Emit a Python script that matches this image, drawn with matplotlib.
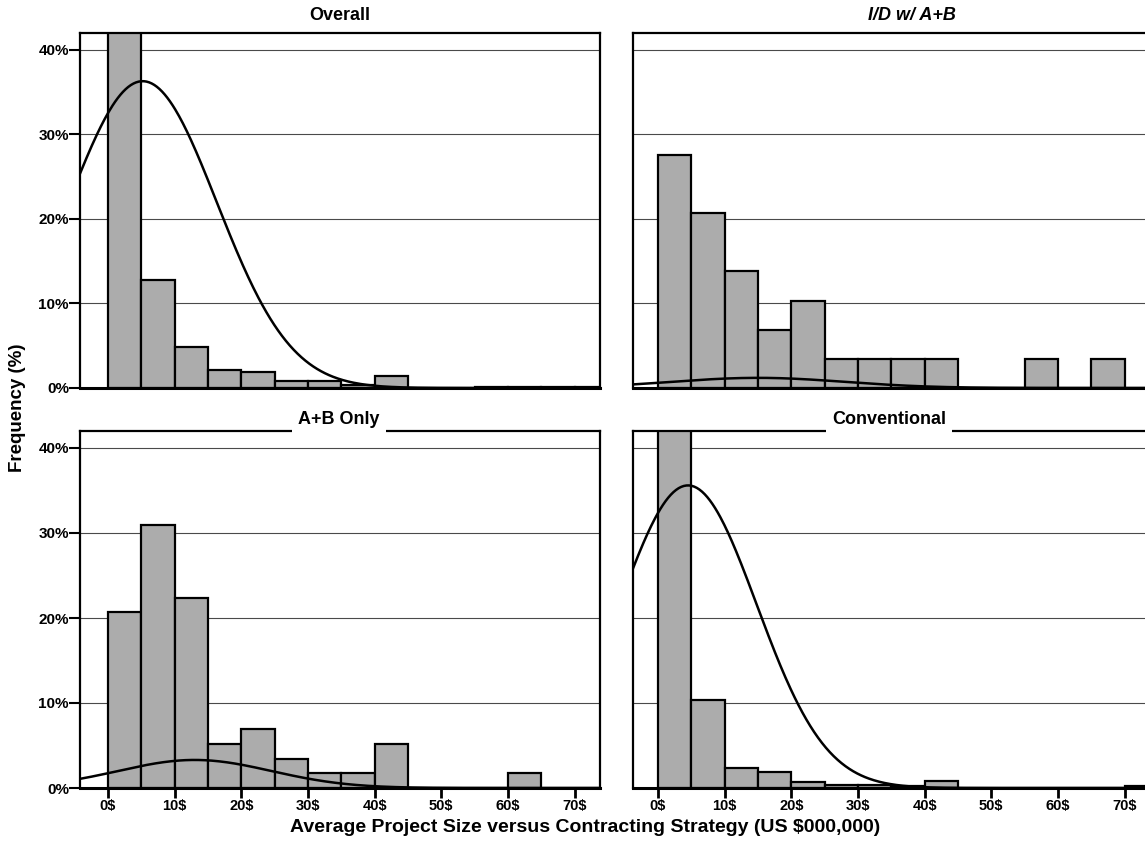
import numpy as np
import matplotlib
matplotlib.use("Agg")
import matplotlib.pyplot as plt

# ---------------- data ----------------
bin_starts = [0, 5, 10, 15, 20, 25, 30, 35, 40, 45, 50, 55, 60, 65, 70]
bin_width = 5

overall = [74.0, 12.8, 4.9, 2.1, 1.9, 0.8, 0.8, 0.4, 1.4, 0, 0, 0.15, 0.15, 0.15, 0.1]
id_ab = [27.6, 20.7, 13.8, 6.9, 10.3, 3.45, 3.45, 3.45, 3.45, 0, 0, 3.45, 0, 3.45, 0]
ab_only = [20.7, 31.0, 22.4, 5.17, 6.9, 3.45, 1.72, 1.72, 5.17, 0, 0, 0, 1.72, 0, 0]
conventional = [82.5, 10.3, 2.4, 1.9, 0.7, 0.4, 0.3, 0.2, 0.8, 0, 0, 0, 0, 0, 0.2]

# normal-curve overlay parameters (mean, sd, peak height in %)
curve_overall = (5.2, 11.1, 36.3)
curve_id_ab = (15.0, 13.0, 1.2)
curve_ab_only = (13.0, 11.5, 3.3)
curve_conventional = (4.5, 10.3, 35.6)

panel_titles = ["Overall", "I/D w/ A+B", "A+B Only", "Conventional"]
x_ticks = [0, 10, 20, 30, 40, 50, 60, 70]
x_ticklabels = ["0$", "10$", "20$", "30$", "40$", "50$", "60$", "70$"]
y_ticks = [0, 10, 20, 30, 40]
y_ticklabels = ["0%", "10%", "20%", "30%", "40%"]

# ---------------- figure ----------------
W, H = 1145, 859
fig = plt.figure(figsize=(W / 100, H / 100), dpi=100)
plt.rcParams['font.family'] = ['Liberation Sans', 'DejaVu Sans']

def rect(x0, y0, x1, y1):
    return [x0 / W, 1 - y1 / H, (x1 - x0) / W, (y1 - y0) / H]

bar_color = '#acacac'
panels = [
    dict(rect=rect(80, 33, 600, 388), xlim=(-4.2, 73.8), vals=overall, curve=curve_overall,
         left=True, bottom=False),
    dict(rect=rect(633, 33, 1153, 388), xlim=(-3.75, 74.25), vals=id_ab, curve=curve_id_ab,
         left=False, bottom=False),
    dict(rect=rect(80, 431, 600, 788), xlim=(-4.2, 73.8), vals=ab_only, curve=curve_ab_only,
         left=True, bottom=True),
    dict(rect=rect(633, 431, 1153, 788), xlim=(-3.75, 74.25), vals=conventional, curve=curve_conventional,
         left=False, bottom=True),
]

for p in panels:
    ax = fig.add_axes(p['rect'])
    ax.set_xlim(*p['xlim'])
    ax.set_ylim(0, 42)
    for y in y_ticks[1:]:
        ax.axhline(y, color='#4a4a4a', lw=0.8, zorder=0.5)
    ax.bar(bin_starts, p['vals'], width=bin_width, align='edge', color=bar_color,
           edgecolor='black', linewidth=1.6, zorder=2)
    mu, sd, peak = p['curve']
    xs = np.linspace(p['xlim'][0], p['xlim'][1], 400)
    ax.plot(xs, peak * np.exp(-(xs - mu) ** 2 / (2 * sd ** 2)), color='black', lw=1.8, zorder=3)
    for s in ax.spines.values():
        s.set_linewidth(1.6)
    ax.spines['bottom'].set_linewidth(2.2)
    ax.set_yticks(y_ticks)
    ax.set_xticks(x_ticks)
    if p['left']:
        ax.set_yticklabels(y_ticklabels, fontsize=11, fontweight='bold')
        ax.tick_params(axis='y', direction='out', length=8, width=1.5, pad=0)
    else:
        ax.tick_params(axis='y', length=0, labelleft=False)
    if p['bottom']:
        ax.set_xticklabels(x_ticklabels, fontsize=10.5, fontweight='bold')
        ax.tick_params(axis='x', direction='out', length=7, width=2, pad=1)
    else:
        ax.tick_params(axis='x', length=0, labelbottom=False)

# panel titles
fig.text(340 / W, 1 - 16 / H, panel_titles[0], ha='center', va='center', fontsize=13, fontweight='bold')
fig.text(912 / W, 1 - 16 / H, panel_titles[1], ha='center', va='center', fontsize=13,
         fontweight='bold', fontstyle='italic')
box = dict(boxstyle='square,pad=0.35', facecolor='white', edgecolor='none')
fig.text(339 / W, 1 - 419 / H, panel_titles[2], ha='center', va='center', fontsize=13,
         fontweight='bold', bbox=box)
fig.text(889 / W, 1 - 419 / H, panel_titles[3], ha='center', va='center', fontsize=13,
         fontweight='bold', bbox=box)

# axis labels
fig.text(18 / W, 1 - 408 / H, "Frequency (%)", rotation=90, ha='center', va='center',
         fontsize=13.5, fontweight='bold')
fig.text(585 / W, 1 - 827 / H, "Average Project Size versus Contracting Strategy (US $000,000)",
         ha='center', va='center', fontsize=14, fontweight='bold')

fig.savefig("out.png", dpi=100)
